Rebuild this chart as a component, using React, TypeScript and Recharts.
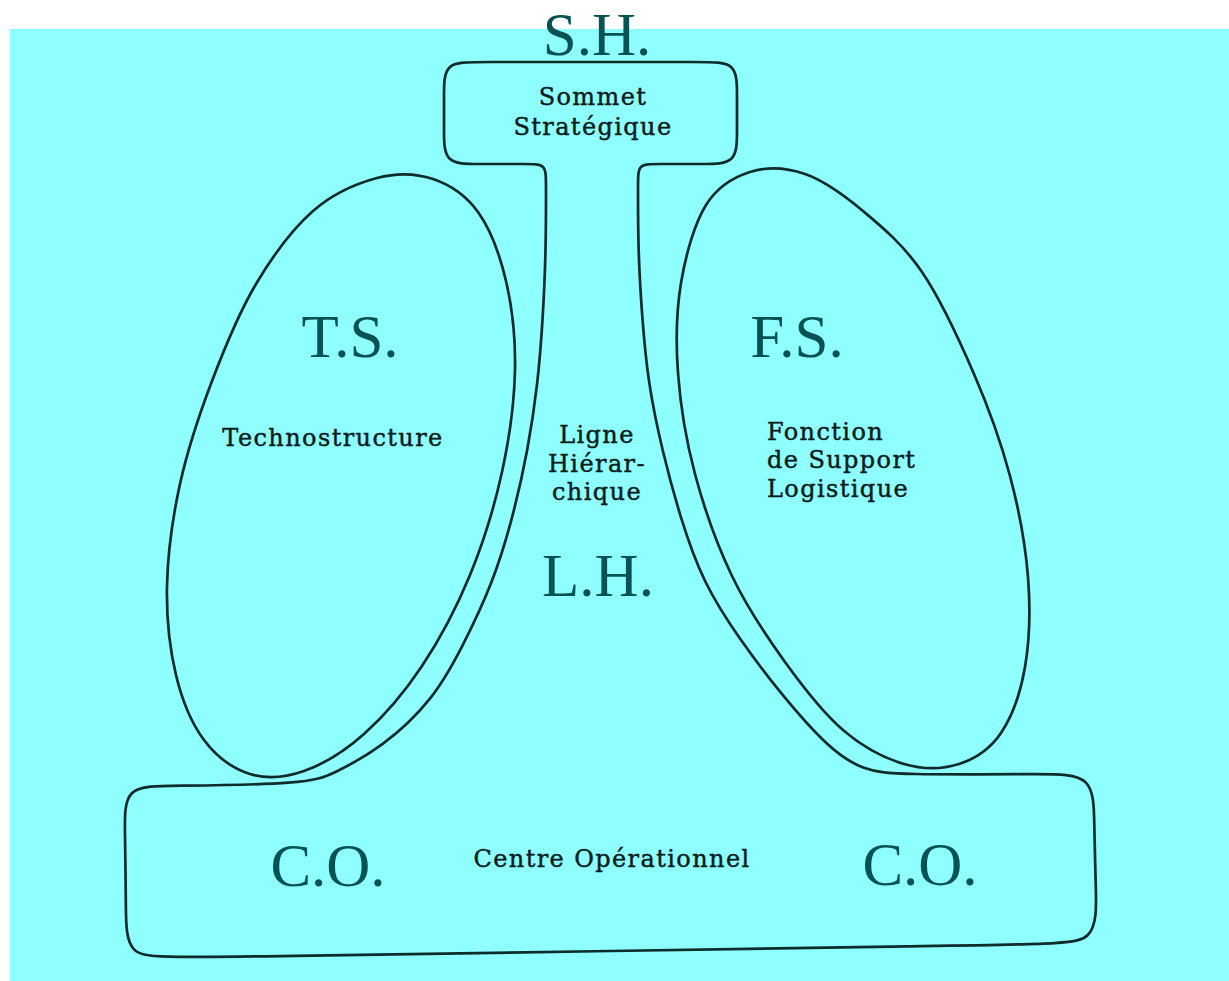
import { ComposedChart, XAxis, YAxis, Line, Scatter, ReferenceArea } from "recharts";

// outline of the whole structure: top box, two stems, bottom box (px units)
const outline = [
  { x: 600, y: 62 }, { x: 704, y: 62 }, { x: 737, y: 62 }, { x: 737, y: 95 },
  { x: 737, y: 131 }, { x: 737, y: 164 }, { x: 704, y: 164 },
  { x: 656, y: 164 }, { x: 638, y: 164 }, { x: 638, y: 182 },
  { x: 638, y: 250 }, { x: 642, y: 317 }, { x: 648, y: 383 }, { x: 662, y: 450 },
  { x: 680, y: 517 }, { x: 703, y: 583 }, { x: 740, y: 640 }, { x: 780, y: 693 },
  { x: 830, y: 750 }, { x: 863, y: 770 }, { x: 897, y: 775 },
  { x: 1044, y: 774 }, { x: 1094, y: 774 }, { x: 1094, y: 824 },
  { x: 1096, y: 890 }, { x: 1097, y: 944 }, { x: 1043, y: 944 },
  { x: 176, y: 958 }, { x: 126, y: 958 }, { x: 126, y: 908 },
  { x: 125, y: 831 }, { x: 124, y: 786 }, { x: 169, y: 786 },
  { x: 307, y: 784 }, { x: 333, y: 774 }, { x: 383, y: 747 }, { x: 433, y: 700 },
  { x: 462, y: 648 }, { x: 493, y: 583 }, { x: 513, y: 517 }, { x: 528, y: 450 },
  { x: 538, y: 383 }, { x: 543, y: 317 }, { x: 546, y: 250 },
  { x: 546, y: 182 }, { x: 546, y: 164 }, { x: 528, y: 164 },
  { x: 477, y: 164 }, { x: 444, y: 164 }, { x: 444, y: 131 },
  { x: 444, y: 95 }, { x: 444, y: 62 }, { x: 477, y: 62 },
];

// Technostructure loop, clockwise
const leftEllipse = [
  { x: 180, y: 484 }, { x: 212, y: 381 }, { x: 256, y: 284 }, { x: 313, y: 211 },
  { x: 377, y: 178 }, { x: 433, y: 179 }, { x: 478, y: 212 }, { x: 506, y: 281 },
  { x: 515, y: 370 }, { x: 502, y: 472 }, { x: 470, y: 575 }, { x: 422, y: 666 },
  { x: 364, y: 734 }, { x: 304, y: 771 }, { x: 250, y: 774 }, { x: 204, y: 740 },
  { x: 176, y: 675 }, { x: 167, y: 586 },
];

// support staff loop, clockwise
const rightEllipse = [
  { x: 678, y: 373 }, { x: 681, y: 283 }, { x: 706, y: 205 }, { x: 750, y: 172 },
  { x: 805, y: 174 }, { x: 863, y: 211 }, { x: 922, y: 272 }, { x: 974, y: 374 },
  { x: 1010, y: 476 }, { x: 1028, y: 577 }, { x: 1025, y: 667 }, { x: 1001, y: 733 },
  { x: 959, y: 764 }, { x: 904, y: 764 }, { x: 843, y: 730 }, { x: 785, y: 662 },
  { x: 732, y: 576 }, { x: 695, y: 474 },
];

// big abbreviations (centre x, baseline y)
const abbreviations = [
  { x: 597, y: 55, text: "S.H." },
  { x: 350, y: 357, text: "T.S." },
  { x: 797, y: 357, text: "F.S." },
  { x: 598, y: 596, text: "L.H." },
  { x: 328, y: 886, text: "C.O." },
  { x: 920, y: 885, text: "C.O." },
];

// centred small captions
const captions = [
  { x: 593, y: 105, text: "Sommet" },
  { x: 593, y: 135, text: "Stratégique" },
  { x: 333, y: 446, text: "Technostructure" },
  { x: 597, y: 443, text: "Ligne" },
  { x: 597, y: 472, text: "Hiérar-" },
  { x: 597, y: 500, text: "chique" },
  { x: 612, y: 867, text: "Centre Opérationnel" },
];

// left aligned caption block
const supportCaption = [
  { x: 767, y: 440, text: "Fonction" },
  { x: 767, y: 468, text: "de Support" },
  { x: 767, y: 497, text: "Logistique" },
];

const INK = "#0f2c2c";
const TEAL = "#075353";
const CAPTION = "#0e1c1c";

// closed Catmull-Rom curve so the loops pass through every read point without a seam
const closedLoop = (context: any) => {
  let pts: number[][] = [];
  return {
    areaStart() {},
    areaEnd() {},
    lineStart() { pts = []; },
    point(x: number, y: number) { pts.push([x, y]); },
    lineEnd() {
      const n = pts.length;
      if (n < 3) return;
      context.moveTo(pts[0][0], pts[0][1]);
      for (let i = 0; i < n; i++) {
        const p0 = pts[(i - 1 + n) % n];
        const p1 = pts[i];
        const p2 = pts[(i + 1) % n];
        const p3 = pts[(i + 2) % n];
        context.bezierCurveTo(
          p1[0] + (p2[0] - p0[0]) / 6, p1[1] + (p2[1] - p0[1]) / 6,
          p2[0] - (p3[0] - p1[0]) / 6, p2[1] - (p3[1] - p1[1]) / 6,
          p2[0], p2[1]
        );
      }
      context.closePath();
    },
  };
};

const BigText = (props: any) => (
  <text x={props.cx} y={props.cy} textAnchor="middle" fill={TEAL}
    fontFamily="'Liberation Serif', 'Times New Roman', serif" fontSize={61}>
    {props.payload.text}
  </text>
);

const SmallText = (anchor: "middle" | "start") => (props: any) => (
  <text x={props.cx} y={props.cy} textAnchor={anchor} fill={CAPTION}
    stroke={CAPTION} strokeWidth={0.45}
    fontFamily="'DejaVu Serif', serif" fontSize={24} letterSpacing={1.4}>
    {props.payload.text}
  </text>
);

export default function App() {
  return (
    <div style={{ position: "absolute", left: 0, top: 0 }}>
      <ComposedChart width={1229} height={981} margin={{ top: 0, right: 0, bottom: 0, left: 0 }}>
        <XAxis dataKey="x" type="number" domain={[0, 1229]} hide />
        <YAxis dataKey="y" type="number" domain={[0, 981]} reversed hide />
        <ReferenceArea x1={10} x2={1229} y1={29} y2={981} fill="#8ffefe" fillOpacity={1} stroke="none" />
        <Line data={outline} dataKey="y" type="basisClosed" stroke={INK} strokeWidth={2.7}
          dot={false} activeDot={false} isAnimationActive={false} />
        <Line data={leftEllipse} dataKey="y" type={closedLoop as any} stroke={INK} strokeWidth={2.7}
          dot={false} activeDot={false} isAnimationActive={false} />
        <Line data={rightEllipse} dataKey="y" type={closedLoop as any} stroke={INK} strokeWidth={2.7}
          dot={false} activeDot={false} isAnimationActive={false} />
        <Scatter data={abbreviations} dataKey="y" shape={BigText} isAnimationActive={false} />
        <Scatter data={captions} dataKey="y" shape={SmallText("middle")} isAnimationActive={false} />
        <Scatter data={supportCaption} dataKey="y" shape={SmallText("start")} isAnimationActive={false} />
      </ComposedChart>
    </div>
  );
}
